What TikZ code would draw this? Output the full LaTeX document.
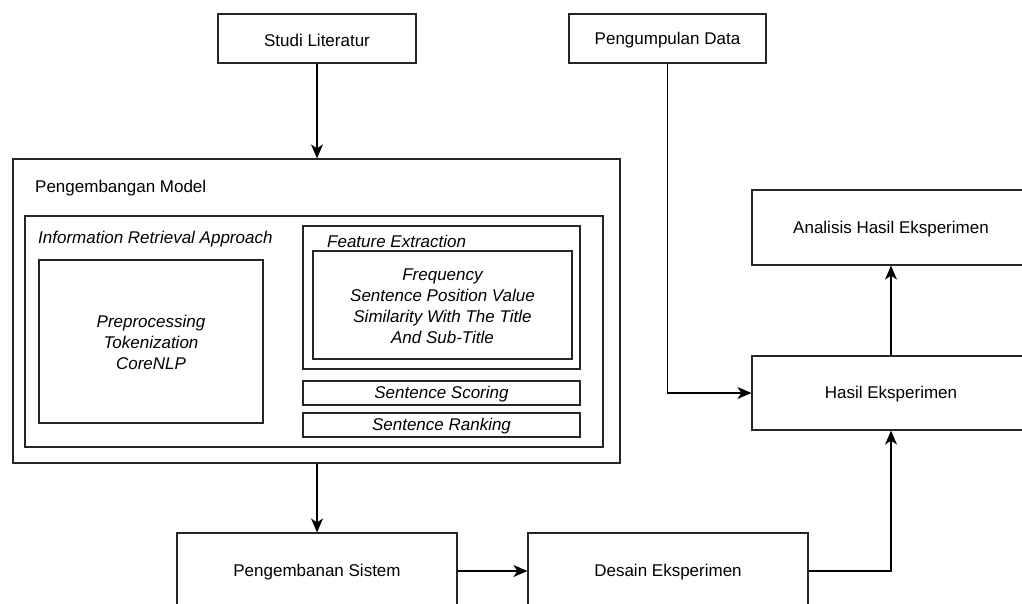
\documentclass[tikz,border=0pt]{standalone}
\usepackage{fontspec}
\setmainfont{Liberation Sans}
\usetikzlibrary{arrows.meta,fit,positioning}

\tikzset{
  box/.style={draw=black!85, line width=1.2pt, rectangle, inner sep=0pt,
              align=center, font=\fontsize{17}{21}\selectfont},
  lbl/.style={inner sep=0pt, yshift=-1.5pt, font=\fontsize{17}{21}\selectfont},
  itl/.style={inner sep=0pt, yshift=-1pt, align=center, font=\fontsize{17}{21}\selectfont\itshape},
  arr/.style={draw=black, line width=1.3pt,
              -{Stealth[length=14pt,width=12pt,inset=4pt]}},
}

\begin{document}
\begin{tikzpicture}[x=1pt,y=-1pt]
\useasboundingbox (0,0) rectangle (1022,603);
\fill[white] (0,0) rectangle (1022,603);
\clip (0,0) rectangle (1022,603);

% top inputs
\node[box, fit={(218,14) (416,63)}] (studi) {};
\node[lbl] at (studi.center) {Studi Literatur};
\node[box, fit={(569,14) (766,63)}] (data) {};
\node[lbl] at (data.center) {Pengumpulan Data};

% model development block
\node[box, fit={(13,159) (620,463)}] (model) {};
\node[lbl, anchor=west] (modeltitle) at (35,187) {Pengembangan Model};
\node[box, fit={(25,216) (603,447)}] (ira) {};
\node[itl, anchor=west] (iratitle) at (38,238) {Information Retrieval Approach};

\node[box, fit={(39,260) (263,423)}] (pre) {};
\node[itl] at (pre.center) {Preprocessing\\Tokenization\\CoreNLP};

\node[box, fit={(303,226) (580,369)}] (fe) {};
\node[itl, anchor=west] (fetitle) at (327,240) {Feature Extraction};
\node[box, fit={(313,251) (572,359)}] (feitems) {};
\node[itl] at (feitems.center) {Frequency\\Sentence Position Value\\Similarity With The Title\\And Sub-Title};

\node[box, fit={(303,381) (580,405)}] (scoring) {};
\node[itl] at (scoring.center) {Sentence Scoring};
\node[box, fit={(303,413) (580,437)}] (ranking) {};
\node[itl] at (ranking.center) {Sentence Ranking};

% lower and right stages
\node[box, fit={(177,533) (457,609)}] (sistem) {};
\node[lbl] at (sistem.center) {Pengembanan Sistem};
\node[box, fit={(528,533) (808,609)}] (desain) {};
\node[lbl] at (desain.center) {Desain Eksperimen};
\node[box, fit={(752,356) (1030,430)}] (hasil) {};
\node[lbl] at (hasil.center) {Hasil Eksperimen};
\node[box, fit={(752,190) (1030,265)}] (analisis) {};
\node[lbl] at (analisis.center) {Analisis Hasil Eksperimen};

% connectors
\draw[arr] (studi.south) -- (studi.south |- model.north);
\draw[arr] (model.south -| sistem.north) -- (sistem.north);
\draw[arr] (sistem.east |- desain.west) -- (desain.west);
\draw[arr] (desain.east) -| (hasil.south);
\draw[arr] (data.south) |- (hasil.west);
\draw[arr] (hasil.north) -- (analisis.south);
\end{tikzpicture}
\end{document}
